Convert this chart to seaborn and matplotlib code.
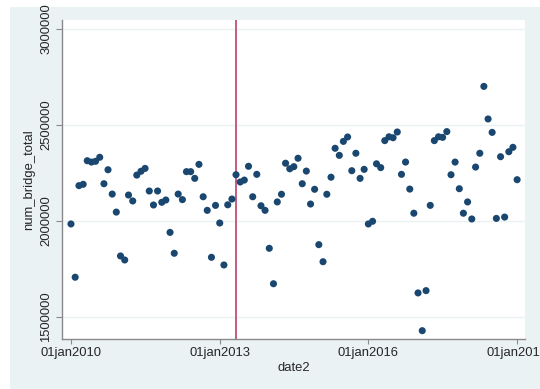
import matplotlib
matplotlib.use("Agg")
import matplotlib.pyplot as plt
import matplotlib.dates as mdates
from matplotlib.patches import Rectangle
import seaborn as sns
import pandas as pd

# ---- data ----
months = pd.date_range("2010-01-01", "2019-01-01", freq="MS")
num_bridge_total = [
    1983000, 1705000, 2183000, 2190000, 2313000, 2306000, 2310000, 2331000, 2193000, 2266000, 2139000, 2045000,
    1816000, 1795000, 2134000, 2103000, 2238000, 2258000, 2273000, 2155000, 2082000, 2155000, 2096000, 2108000,
    1939000, 1830000, 2139000, 2110000, 2256000, 2256000, 2221000, 2294000, 2125000, 2054000, 1809000, 2080000,
    1988000, 1769000, 2083000, 2113000, 2240000, 2202000, 2212000, 2284000, 2125000, 2242000, 2078000, 2054000,
    1856000, 1671000, 2098000, 2138000, 2300000, 2271000, 2282000, 2326000, 2193000, 2259000, 2087000, 2164000,
    1875000, 1786000, 2138000, 2227000, 2378000, 2341000, 2414000, 2437000, 2261000, 2352000, 2221000, 2268000,
    1983000, 1997000, 2297000, 2277000, 2418000, 2438000, 2433000, 2463000, 2242000, 2306000, 2165000, 2039000,
    1623000, 1426000, 1635000, 2080000, 2418000, 2438000, 2435000, 2465000, 2240000, 2306000, 2167000, 2039000,
    2098000, 2009000, 2280000, 2352000, 2701000, 2531000, 2461000, 2012000, 2334000, 2019000, 2360000, 2383000,
    2214000,
]
event_date = "2013-05-01"
x_ticks = ["2010-01-01", "2013-01-01", "2016-01-01", "2019-01-01"]
x_ticklabels = ["01jan2010", "01jan2013", "01jan2016", "01jan2019"]
y_ticks = [1500000, 2000000, 2500000, 3000000]

df = pd.DataFrame({"date2": months, "num_bridge_total": num_bridge_total})

sns.set_style("white")
plt.rcParams["font.family"] = ["Liberation Sans", "DejaVu Sans"]

W, H = 540, 389
fig = plt.figure(figsize=(W / 100, H / 100), dpi=100, facecolor="white")
bg = "#EAF2F3"
fig.patches.append(Rectangle((10 / W, 0), 1, 1 - 7 / H, transform=fig.transFigure,
                             facecolor=bg, edgecolor="none", zorder=-10))

L, R, T, B = 62, 525, 20, 339
ax = fig.add_axes([L / W, 1 - B / H, (R - L) / W, (B - T) / H])
ax.set_facecolor("white")

for yv in y_ticks:
    ax.axhline(yv, color=bg, lw=1.0, zorder=0)

sns.scatterplot(data=df, x="date2", y="num_bridge_total", ax=ax, color="#1A476F",
                s=26, edgecolor="none", linewidth=0, zorder=3)
ax.axvline(pd.Timestamp(event_date), color="#C45C82", lw=1.4, zorder=2)

ax.set_xlim(pd.Timestamp("2009-10-27"), pd.Timestamp("2019-02-28"))
ax.set_ylim(1382600, 3047500)

ax.set_xticks([pd.Timestamp(d) for d in x_ticks])
ax.set_xticklabels(x_ticklabels, fontsize=9.4)
ax.set_yticks(y_ticks)
ax.set_yticklabels([str(v) for v in y_ticks], fontsize=9.4, rotation=90, va="center")

for s in ["top", "right"]:
    ax.spines[s].set_visible(False)
for s in ["left", "bottom"]:
    ax.spines[s].set_color("#8a8a8a")
    ax.spines[s].set_linewidth(1.0)

ax.tick_params(axis="x", direction="out", length=3.5, width=0.8, color="#8a8a8a", pad=2.5, bottom=True)
ax.tick_params(axis="y", direction="out", length=4, width=0.8, color="#8a8a8a", pad=3, left=True)

ax.set_xlabel("date2", fontsize=9.4, labelpad=2)
ax.set_ylabel("num_bridge_total", fontsize=9.4, labelpad=4)

fig.savefig("out.png", dpi=100, facecolor=fig.get_facecolor())
